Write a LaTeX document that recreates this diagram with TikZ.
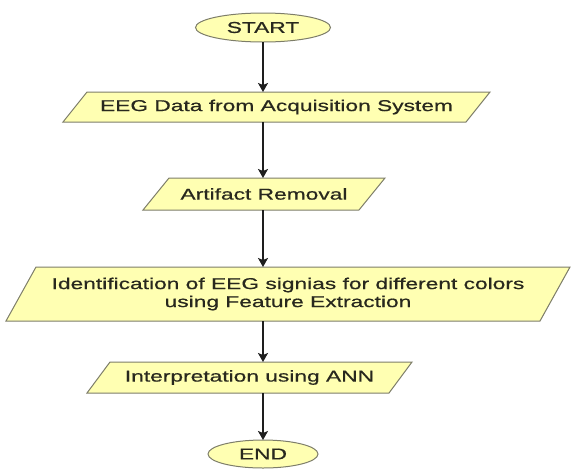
\documentclass[tikz,border=0pt]{standalone}
\usepackage{fontspec}
\newfontfamily\boxfont[FakeStretch=1.45,FakeBold=0.6]{Liberation Sans}
\usetikzlibrary{shapes.geometric,arrows.meta,backgrounds}
\definecolor{boxfill}{RGB}{255,255,178}
\definecolor{boxline}{RGB}{125,125,105}
\definecolor{boxtext}{RGB}{40,40,30}
\definecolor{arrowcol}{RGB}{30,30,30}
\tikzset{
  boxfontstyle/.style={text=boxtext, font=\boxfont\fontsize{15.7}{18}\selectfont},
  term/.style={shape=ellipse, draw=boxline, fill=boxfill, line width=1pt,
    inner sep=0pt, outer sep=0pt, boxfontstyle},
  iotext/.style={shape=rectangle, inner sep=0pt, outer sep=0pt,
    align=center, boxfontstyle},
  ioshape/.style={draw=boxline, fill=boxfill, line width=1pt, line join=miter},
  flow/.style={draw=arrowcol, line width=1.5pt,
    -{Stealth[length=9pt,width=10pt,inset=2pt]}}
}
\newcommand{\ioframe}[2]{%
  \path[ioshape] ([xshift=#2]#1.north west) -- (#1.north east)
    -- ([xshift=-#2]#1.south east) -- (#1.south west) -- cycle;}
\begin{document}
\begin{tikzpicture}[x=1pt,y=-1pt]
\useasboundingbox (0,0) rectangle (572,469);
\node[term, minimum width=135pt, minimum height=29pt] (start) at (263,27.5) {START};
\node[iotext, minimum width=427pt, minimum height=30pt] (eeg) at (276.5,107)
  {EEG Data from Acquisition System};
\node[iotext, minimum width=242pt, minimum height=32pt] (art) at (264,194)
  {Artifact Removal};
\node[iotext, minimum width=564pt, minimum height=54pt] (ident) at (288,294)
  {Identification of EEG signias for different colors\\using Feature Extraction};
\node[iotext, minimum width=325pt, minimum height=31pt] (ann) at (249.5,377.5)
  {Interpretation using ANN};
\node[term, minimum width=110pt, minimum height=28pt] (end) at (263,454) {END};
\begin{scope}[on background layer]
  \ioframe{eeg}{24pt}
  \ioframe{art}{26pt}
  \ioframe{ident}{30pt}
  \ioframe{ann}{23pt}
\end{scope}
\draw[flow] (start.south) -- (start.south |- eeg.north);
\draw[flow] (eeg.south -| start) -- (art.north -| start);
\draw[flow] (art.south -| start) -- (ident.north -| start);
\draw[flow] (ident.south -| start) -- (ann.north -| start);
\draw[flow] (ann.south -| start) -- (end.north);
\end{tikzpicture}
\end{document}
